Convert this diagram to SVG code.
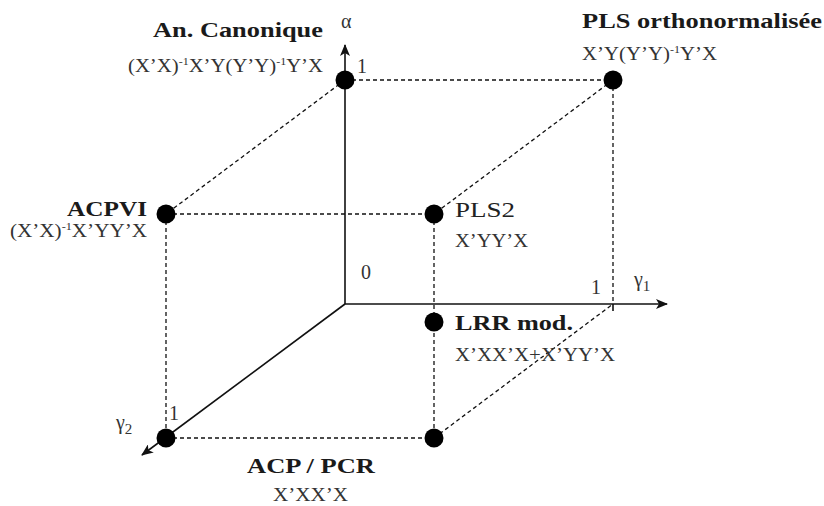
<svg xmlns="http://www.w3.org/2000/svg" width="824" height="506" viewBox="0 0 824 506">
<defs>
<style>
text{font-family:'Liberation Serif','Times New Roman',serif;fill:#222}
.b{font-weight:bold;font-size:21px;fill:#1a1a1a}
.r{font-size:22px}
.f{font-size:19px;fill:#333}
.n{font-size:20px;fill:#333}
.dash{stroke:#111;stroke-width:1.3;stroke-dasharray:4,3;fill:none}
.ax{stroke:#111;stroke-width:1.6;fill:none}
.dot{fill:#000}
</style>
<marker id="arr" viewBox="0 0 12 10" refX="11" refY="5" markerWidth="12" markerHeight="10" markerUnits="userSpaceOnUse" orient="auto">
<path d="M0,0 L12,5 L0,10 L3,5 Z" fill="#111"/>
</marker>
</defs>
<rect width="824" height="506" fill="#fff"/>
<g id="connectors">
<line class="dash" x1="345" y1="80" x2="613" y2="80"/>
<line class="dash" x1="345" y1="80" x2="166" y2="214"/>
<line class="dash" x1="613" y1="80" x2="434" y2="214"/>
<line class="dash" x1="613" y1="80" x2="613" y2="304"/>
<line class="dash" x1="166" y1="214" x2="434" y2="214"/>
<line class="dash" x1="166" y1="214" x2="166" y2="438"/>
<line class="dash" x1="434" y1="214" x2="434" y2="438"/>
<line class="dash" x1="166" y1="438" x2="434" y2="438"/>
<line class="dash" x1="434" y1="438" x2="613" y2="304"/>
<line class="ax" x1="613" y1="304" x2="613" y2="311"/>
<line class="ax" x1="345" y1="304" x2="345" y2="45" marker-end="url(#arr)"/>
<line class="ax" x1="345" y1="304" x2="667" y2="304" marker-end="url(#arr)"/>
<line class="ax" x1="345" y1="304" x2="142" y2="455" marker-end="url(#arr)"/>
</g>
<g id="axis-labels">
<text class="n" x="341" y="28">α</text>
<text class="n" x="357" y="73">1</text>
<text class="n" x="361" y="279">0</text>
<text class="n" x="591" y="294">1</text>
<text class="n" x="634" y="286">γ<tspan style="font-size:15px" dy="5">1</tspan></text>
<text class="n" x="169" y="420">1</text>
<text class="n" x="116" y="429">γ<tspan style="font-size:15px" dy="5">2</tspan></text>
</g>
<g id="an-canonique">
<circle class="dot" cx="345" cy="80" r="9.5"/>
<text class="b" x="153" y="37" textLength="170" lengthAdjust="spacingAndGlyphs">An. Canonique</text>
<text class="f" x="128" y="72" textLength="195" lengthAdjust="spacingAndGlyphs">(X’X)<tspan font-size="11" dy="-7">-1</tspan><tspan dy="7">X’Y(Y’Y)</tspan><tspan font-size="11" dy="-7">-1</tspan><tspan dy="7">Y’X</tspan></text>
</g>
<g id="pls-ortho">
<circle class="dot" cx="613" cy="80" r="9.5"/>
<text class="b" x="582" y="28" textLength="240" lengthAdjust="spacingAndGlyphs">PLS orthonormalisée</text>
<text class="f" x="582" y="60" textLength="135" lengthAdjust="spacingAndGlyphs">X’Y(Y’Y)<tspan font-size="11" dy="-7">-1</tspan><tspan dy="7">Y’X</tspan></text>
</g>
<g id="acpvi">
<circle class="dot" cx="166" cy="214" r="9.5"/>
<text class="b" x="67" y="216" textLength="80" lengthAdjust="spacingAndGlyphs">ACPVI</text>
<text class="f" x="10" y="237" textLength="137" lengthAdjust="spacingAndGlyphs">(X’X)<tspan font-size="11" dy="-7">-1</tspan><tspan dy="7">X’YY’X</tspan></text>
</g>
<g id="pls2">
<circle class="dot" cx="434" cy="214" r="9.5"/>
<text class="r" x="455" y="217" textLength="60" lengthAdjust="spacingAndGlyphs">PLS2</text>
<text class="f" x="455" y="247" textLength="73" lengthAdjust="spacingAndGlyphs">X’YY’X</text>
</g>
<g id="lrr-mod">
<circle class="dot" cx="434" cy="322" r="9.5"/>
<text class="b" x="455" y="330" textLength="118" lengthAdjust="spacingAndGlyphs">LRR mod.</text>
<text class="f" x="455" y="361" textLength="160" lengthAdjust="spacingAndGlyphs">X’XX’X+X’YY’X</text>
</g>
<g id="acp-pcr">
<circle class="dot" cx="434" cy="438" r="9.5"/>
<text class="b" x="247" y="473" textLength="128" lengthAdjust="spacingAndGlyphs">ACP / PCR</text>
<text class="f" x="273" y="501" textLength="75" lengthAdjust="spacingAndGlyphs">X’XX’X</text>
</g>
<g id="gamma2-point">
<circle class="dot" cx="166" cy="438" r="9.5"/>
</g>
</svg>
